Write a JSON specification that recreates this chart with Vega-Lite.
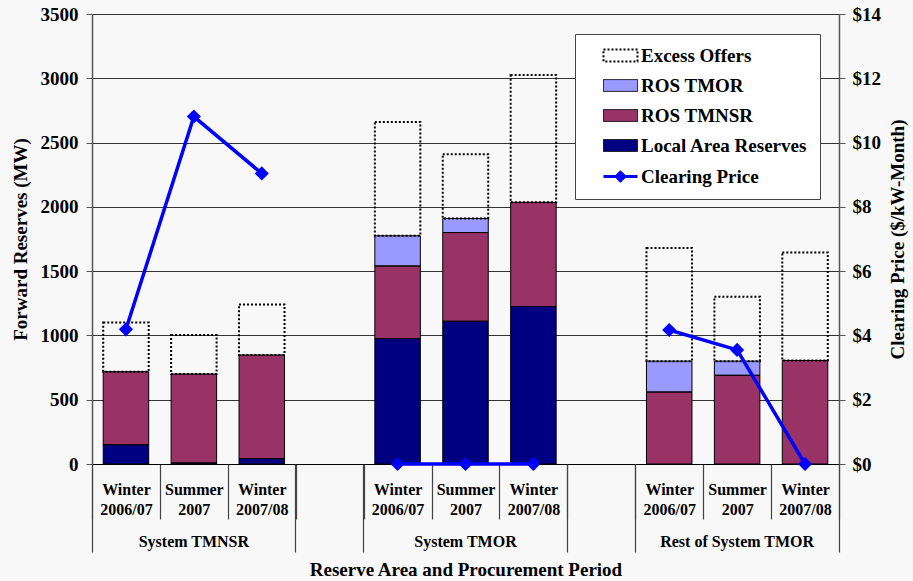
{
  "$schema": "https://vega.github.io/schema/vega-lite/v6.json",
  "width": 747,
  "height": 450,
  "autosize": {"type": "none"},
  "padding": {"left": 92, "top": 14, "right": 74, "bottom": 117},
  "background": "#f8f8f8",
  "config": {"view": {"stroke": null}, "font": "Liberation Serif"},
  "datasets": {
    "reserves": [
      {"slot": "System TMNSR|Winter 2006/07", "component": "Local Area Reserves", "mw": 150},
      {"slot": "System TMNSR|Winter 2006/07", "component": "ROS TMNSR", "mw": 568},
      {"slot": "System TMNSR|Summer 2007", "component": "Local Area Reserves", "mw": 8},
      {"slot": "System TMNSR|Summer 2007", "component": "ROS TMNSR", "mw": 692},
      {"slot": "System TMNSR|Winter 2007/08", "component": "Local Area Reserves", "mw": 42},
      {"slot": "System TMNSR|Winter 2007/08", "component": "ROS TMNSR", "mw": 806},
      {"slot": "System TMOR|Winter 2006/07", "component": "Local Area Reserves", "mw": 975},
      {"slot": "System TMOR|Winter 2006/07", "component": "ROS TMNSR", "mw": 565},
      {"slot": "System TMOR|Winter 2006/07", "component": "ROS TMOR", "mw": 235},
      {"slot": "System TMOR|Summer 2007", "component": "Local Area Reserves", "mw": 1110},
      {"slot": "System TMOR|Summer 2007", "component": "ROS TMNSR", "mw": 690},
      {"slot": "System TMOR|Summer 2007", "component": "ROS TMOR", "mw": 110},
      {"slot": "System TMOR|Winter 2007/08", "component": "Local Area Reserves", "mw": 1225},
      {"slot": "System TMOR|Winter 2007/08", "component": "ROS TMNSR", "mw": 810},
      {"slot": "Rest of System TMOR|Winter 2006/07", "component": "ROS TMNSR", "mw": 560},
      {"slot": "Rest of System TMOR|Winter 2006/07", "component": "ROS TMOR", "mw": 240},
      {"slot": "Rest of System TMOR|Summer 2007", "component": "ROS TMNSR", "mw": 690},
      {"slot": "Rest of System TMOR|Summer 2007", "component": "ROS TMOR", "mw": 110},
      {"slot": "Rest of System TMOR|Winter 2007/08", "component": "ROS TMNSR", "mw": 805}
    ],
    "periods": [
      {"slot": "System TMNSR|Winter 2006/07", "group": "System TMNSR", "cleared": 718, "offered": 1100, "price": 4.19},
      {"slot": "System TMNSR|Summer 2007", "group": "System TMNSR", "cleared": 700, "offered": 1003, "price": 10.81},
      {"slot": "System TMNSR|Winter 2007/08", "group": "System TMNSR", "cleared": 848, "offered": 1240, "price": 9.04},
      {"slot": "System TMOR|Winter 2006/07", "group": "System TMOR", "cleared": 1775, "offered": 2660, "price": 0},
      {"slot": "System TMOR|Summer 2007", "group": "System TMOR", "cleared": 1910, "offered": 2410, "price": 0},
      {"slot": "System TMOR|Winter 2007/08", "group": "System TMOR", "cleared": 2035, "offered": 3025, "price": 0},
      {"slot": "Rest of System TMOR|Winter 2006/07", "group": "Rest of System TMOR", "cleared": 800, "offered": 1680, "price": 4.17},
      {"slot": "Rest of System TMOR|Summer 2007", "group": "Rest of System TMOR", "cleared": 800, "offered": 1300, "price": 3.55},
      {"slot": "Rest of System TMOR|Winter 2007/08", "group": "Rest of System TMOR", "cleared": 805, "offered": 1645, "price": 0}
    ]
  },
  "layer": [
    {
      "encoding": {
        "x": {
          "field": "slot",
          "type": "nominal",
          "scale": {
            "domain": ["System TMNSR|Winter 2006/07", "System TMNSR|Summer 2007", "System TMNSR|Winter 2007/08", "gap1", "System TMOR|Winter 2006/07", "System TMOR|Summer 2007", "System TMOR|Winter 2007/08", "gap2", "Rest of System TMOR|Winter 2006/07", "Rest of System TMOR|Summer 2007", "Rest of System TMOR|Winter 2007/08"],
            "paddingInner": 0,
            "paddingOuter": 0
          },
          "axis": {
            "title": null,
            "orient": "bottom",
            "grid": false,
            "tickBand": "extent",
            "tickSize": 55,
            "tickColor": "#444444",
            "tickWidth": 1.2,
            "domainColor": "#000000",
            "domainWidth": 1,
            "labelExpr": "indexof(datum.label, '|') < 0 ? '' : split(split(datum.label, '|')[1], ' ')",
            "labelAngle": 0,
            "labelAlign": "center",
            "labelBaseline": "top",
            "labelPadding": -38,
            "labelLineHeight": 20,
            "labelFont": "Liberation Serif",
            "labelFontSize": 16,
            "labelFontWeight": "bold",
            "labelColor": "#000000",
            "labelOverlap": false,
            "labelBound": false,
            "labelFlush": false,
            "labelLimit": 0
          }
        }
      },
      "layer": [
        {
          "data": {"name": "reserves"},
          "mark": {"type": "bar", "width": {"band": 0.67}},
          "encoding": {
            "y": {
              "field": "mw",
              "type": "quantitative",
              "stack": "zero",
              "title": "Forward Reserves (MW)",
              "scale": {"domain": [0, 3500], "nice": false},
              "axis": {
                "orient": "left",
                "values": [0, 500, 1000, 1500, 2000, 2500, 3000, 3500],
                "format": "d",
                "grid": true,
                "gridColor": "#333333",
                "gridWidth": 1,
                "domainColor": "#555555",
                "domainWidth": 1.5,
                "tickColor": "#555555",
                "tickSize": 6,
                "labelPadding": 8,
                "labelFont": "Liberation Serif",
                "labelFontSize": 19,
                "labelFontWeight": "bold",
                "labelColor": "#000000",
                "titleFont": "Liberation Serif",
                "titleFontSize": 19,
                "titleFontWeight": "bold",
                "titleColor": "#000000",
                "titlePadding": 10
              }
            },
            "color": {
              "field": "component",
              "type": "nominal",
              "scale": {
                "domain": ["Excess Offers", "ROS TMOR", "ROS TMNSR", "Local Area Reserves", "Clearing Price"],
                "range": ["#ffffff", "#9999ff", "#993366", "#000080", "#0000ff"]
              },
              "legend": {
                "title": null,
                "orient": "none",
                "legendX": 483,
                "legendY": 20,
                "direction": "vertical",
                "fillColor": "#ffffff",
                "strokeColor": "#444444",
                "padding": 12,
                "rowPadding": 10,
                "labelFont": "Liberation Serif",
                "labelFontSize": 19,
                "labelFontWeight": "bold",
                "labelColor": "#000000",
                "labelLimit": 400,
                "labelExpr": "datum.label + '\u00a0\u00a0\u00a0\u00a0'",
                "symbolSize": 1156,
                "symbolOffset": 24,
                "labelOffset": 11,
                "symbolOpacity": 1,
                "symbolType": {"expr": "datum.value === 'Clearing Price' ? 'M-1,0H1M-0.25,0L0,-0.25L0.25,0L0,0.25Z' : 'M-1,-0.35H1V0.35H-1Z'"},
                "symbolStrokeColor": {"expr": "datum.value === 'Clearing Price' ? '#0000ff' : '#000000'"},
                "symbolStrokeWidth": {"expr": "datum.value === 'Clearing Price' ? 3 : datum.value === 'Excess Offers' ? 2 : 1"},
                "symbolDash": {"expr": "datum.value === 'Excess Offers' ? [2, 2] : [1, 0]"}
              }
            },
            "order": {"field": "component", "sort": "ascending"}
          }
        },
        {
          "data": {"name": "reserves"},
          "mark": {"type": "bar", "width": {"band": 0.67}, "filled": false, "stroke": "#000000", "strokeWidth": 1},
          "encoding": {
            "y": {"field": "mw", "type": "quantitative", "stack": "zero", "title": "Forward Reserves (MW)"},
            "detail": {"field": "component"},
            "order": {"field": "component", "sort": "ascending"}
          }
        },
        {
          "data": {"name": "periods"},
          "mark": {"type": "bar", "width": {"band": 0.67}, "filled": false, "stroke": "#000000", "strokeWidth": 2, "strokeDash": [2, 2]},
          "encoding": {
            "y": {"field": "cleared", "type": "quantitative", "title": "Forward Reserves (MW)"},
            "y2": {"field": "offered"}
          }
        }
      ]
    },
    {
      "data": {"name": "periods"},
      "encoding": {
        "x": {
          "field": "slot",
          "type": "nominal",
          "scale": {
            "domain": ["System TMNSR|Winter 2006/07", "System TMNSR|Summer 2007", "System TMNSR|Winter 2007/08", "gap1", "System TMOR|Winter 2006/07", "System TMOR|Summer 2007", "System TMOR|Winter 2007/08", "gap2", "Rest of System TMOR|Winter 2006/07", "Rest of System TMOR|Summer 2007", "Rest of System TMOR|Winter 2007/08"],
            "paddingInner": 0,
            "paddingOuter": 0
          },
          "axis": null
        },
        "y": {
          "field": "price",
          "type": "quantitative",
          "title": "Clearing Price ($/kW-Month)",
          "scale": {"domain": [0, 14], "nice": false},
          "axis": {
            "orient": "right",
            "values": [0, 2, 4, 6, 8, 10, 12, 14],
            "grid": false,
            "labelExpr": "'$' + datum.value",
            "domainColor": "#555555",
            "domainWidth": 1.5,
            "tickColor": "#555555",
            "tickSize": 6,
            "labelPadding": 7,
            "labelFont": "Liberation Serif",
            "labelFontSize": 19,
            "labelFontWeight": "bold",
            "labelColor": "#000000",
            "titleFont": "Liberation Serif",
            "titleFontSize": 19,
            "titleFontWeight": "bold",
            "titleColor": "#000000",
            "titleAngle": 270,
            "titleBaseline": "top",
            "titlePadding": 8
          }
        },
        "detail": {"field": "group"}
      },
      "layer": [
        {"mark": {"type": "line", "strokeWidth": 3.5, "color": "#0000ff"}, "encoding": {"order": {"value": null}}},
        {"mark": {"type": "point", "shape": "diamond", "size": 200, "filled": true, "opacity": 1, "color": "#0000ff"}}
      ]
    },
    {
      "data": {"name": "periods"},
      "mark": {"type": "point", "opacity": 0},
      "encoding": {
        "x": {
          "field": "group",
          "type": "nominal",
          "scale": {"type": "band", "domain": ["System TMNSR", "System TMOR", "Rest of System TMOR"], "paddingInner": 0.25, "paddingOuter": 0},
          "axis": {
            "title": "Reserve Area and Procurement Period",
            "orient": "bottom",
            "grid": false,
            "domain": false,
            "ticks": false,
            "labelAngle": 0,
            "labelAlign": "center",
            "labelBaseline": "top",
            "labelPadding": 69,
            "labelFont": "Liberation Serif",
            "labelFontSize": 16,
            "labelFontWeight": "bold",
            "labelColor": "#000000",
            "labelOverlap": false,
            "labelBound": false,
            "labelFlush": false,
            "labelLimit": 0,
            "titleFont": "Liberation Serif",
            "titleFontSize": 19,
            "titleFontWeight": "bold",
            "titleColor": "#000000",
            "titlePadding": 11
          }
        }
      }
    },
    {
      "data": {"name": "periods"},
      "mark": {"type": "point", "opacity": 0},
      "encoding": {
        "x": {
          "field": "group",
          "type": "nominal",
          "scale": {"type": "band", "domain": ["System TMNSR", "System TMOR", "Rest of System TMOR"], "paddingInner": 0.25, "paddingOuter": 0},
          "axis": {
            "title": null,
            "orient": "bottom",
            "grid": false,
            "domain": false,
            "labels": false,
            "bandPosition": 0,
            "tickSize": 88,
            "tickColor": "#444444",
            "tickWidth": 1.2
          }
        }
      }
    },
    {
      "data": {"name": "periods"},
      "mark": {"type": "point", "opacity": 0},
      "encoding": {
        "x": {
          "field": "group",
          "type": "nominal",
          "scale": {"type": "band", "domain": ["System TMNSR", "System TMOR", "Rest of System TMOR"], "paddingInner": 0.25, "paddingOuter": 0},
          "axis": {
            "title": null,
            "orient": "bottom",
            "grid": false,
            "domain": false,
            "labels": false,
            "bandPosition": 1,
            "tickSize": 88,
            "tickColor": "#444444",
            "tickWidth": 1.2
          }
        }
      }
    }
  ],
  "resolve": {"scale": {"x": "independent", "y": "independent"}}
}
